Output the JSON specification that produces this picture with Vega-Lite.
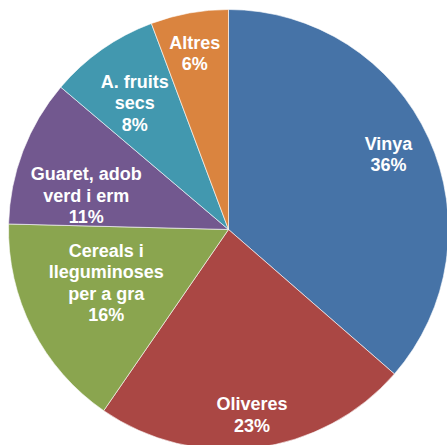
{
  "$schema": "https://vega.github.io/schema/vega-lite/v6.json",
  "autosize": {"type": "none"},
  "padding": {"left": 10, "top": 14, "right": 0, "bottom": 0},
  "width": 437,
  "height": 431,
  "background": "white",
  "config": {"view": {"stroke": null}},
  "data": {
    "values": [
      {"ordre": 1, "cat": "Vinya", "value": 36.4, "label": "Vinya\n36%"},
      {"ordre": 2, "cat": "Oliveres", "value": 23.2, "label": "Oliveres\n23%"},
      {"ordre": 3, "cat": "Cereals i lleguminoses per a gra", "value": 15.8, "label": "Cereals i\nlleguminoses\nper a gra\n16%"},
      {"ordre": 4, "cat": "Guaret, adob verd i erm", "value": 10.8, "label": "Guaret, adob\nverd i erm\n11%"},
      {"ordre": 5, "cat": "A. fruits secs", "value": 8.1, "label": "A. fruits\nsecs\n8%"},
      {"ordre": 6, "cat": "Altres", "value": 5.7, "label": "Altres\n6%"}
    ]
  },
  "encoding": {
    "theta": {"field": "value", "type": "quantitative", "stack": true},
    "order": {"field": "ordre", "type": "quantitative"}
  },
  "layer": [
    {
      "mark": {"type": "arc", "outerRadius": 220, "stroke": "#ffffff", "strokeWidth": 0.6},
      "encoding": {
        "color": {
          "field": "cat",
          "type": "nominal",
          "sort": null,
          "scale": {
            "domain": ["Vinya", "Oliveres", "Cereals i lleguminoses per a gra", "Guaret, adob verd i erm", "A. fruits secs", "Altres"],
            "range": ["#4673A7", "#AA4744", "#8AA54F", "#72588F", "#4298AF", "#DA843F"]
          },
          "legend": null
        }
      }
    },
    {
      "mark": {"type": "text", "radius": 178, "dy": -10.75, "dx": -2, "font": "Liberation Sans", "fontWeight": "bold", "fontSize": 18, "fill": "white", "lineBreak": "\n", "lineHeight": 21.5, "align": "center", "baseline": "middle"},
      "encoding": {
        "text": {"condition": {"test": "datum.cat === 'Vinya' || datum.cat === 'Altres'", "field": "label"}, "value": ""}
      }
    },
    {
      "mark": {"type": "text", "radius": 188, "dy": -10.75, "font": "Liberation Sans", "fontWeight": "bold", "fontSize": 18, "fill": "white", "lineBreak": "\n", "lineHeight": 21.5, "align": "center", "baseline": "middle"},
      "encoding": {
        "text": {"condition": {"test": "datum.cat === 'Oliveres'", "field": "label"}, "value": ""}
      }
    },
    {
      "mark": {"type": "text", "radius": 156, "dy": -19, "dx": -4, "font": "Liberation Sans", "fontWeight": "bold", "fontSize": 18, "fill": "white", "lineBreak": "\n", "lineHeight": 21.5, "align": "center", "baseline": "middle"},
      "encoding": {
        "text": {"condition": {"test": "datum.cat === 'A. fruits secs'", "field": "label"}, "value": ""}
      }
    },
    {
      "mark": {"type": "text", "radius": 135, "dy": -39, "dx": -2, "font": "Liberation Sans", "fontWeight": "bold", "fontSize": 18, "fill": "white", "lineBreak": "\n", "lineHeight": 21.5, "align": "center", "baseline": "middle"},
      "encoding": {
        "text": {"condition": {"test": "datum.cat === 'Cereals i lleguminoses per a gra'", "field": "label"}, "value": ""}
      }
    },
    {
      "mark": {"type": "text", "radius": 147, "dy": -2, "dx": -5, "font": "Liberation Sans", "fontWeight": "bold", "fontSize": 18, "fill": "white", "lineBreak": "\n", "lineHeight": 21.5, "align": "center", "baseline": "middle"},
      "encoding": {
        "text": {"condition": {"test": "datum.cat === 'Guaret, adob verd i erm'", "field": "label"}, "value": ""}
      }
    }
  ]
}
